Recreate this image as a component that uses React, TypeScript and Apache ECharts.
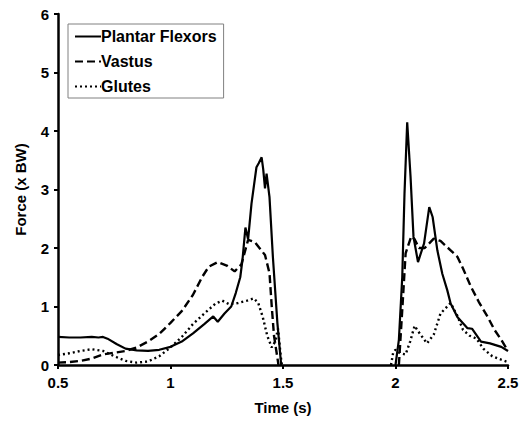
import React, { useEffect, useRef } from "react";
import * as echarts from "echarts";

const seriesNames = ["Plantar Flexors", "Vastus", "Glutes"];

// null marks the gap between the two bouts (curves lie on the axis there)
const pfTime = [0.5, 0.55, 0.6, 0.65, 0.68, 0.7, 0.72, 0.76, 0.8, 0.85, 0.9, 0.95, 1.0, 1.05, 1.1, 1.15, 1.19, 1.21, 1.24, 1.27, 1.29, 1.31, 1.32, 1.333, 1.345, 1.36, 1.382, 1.392, 1.405, 1.412, 1.42, 1.427, 1.44, 1.455, 1.475, 1.492, 1.75, 2.0, 2.015, 2.03, 2.04, 2.052, 2.067, 2.08, 2.1, 2.127, 2.15, 2.165, 2.186, 2.208, 2.23, 2.245, 2.275, 2.32, 2.34, 2.38, 2.42, 2.47, 2.5];
const pfForce = [0.48, 0.47, 0.47, 0.48, 0.47, 0.48, 0.45, 0.36, 0.28, 0.25, 0.24, 0.26, 0.31, 0.4, 0.54, 0.7, 0.83, 0.74, 0.88, 1.0, 1.23, 1.5, 1.8, 2.35, 2.15, 2.76, 3.38, 3.45, 3.55, 3.35, 3.02, 3.27, 2.87, 1.85, 0.72, 0.0, null, 0.0, 0.43, 1.5, 2.93, 4.15, 3.21, 2.19, 1.76, 2.08, 2.7, 2.53, 1.96, 1.56, 1.28, 1.05, 0.82, 0.63, 0.62, 0.4, 0.37, 0.31, 0.24];

const vTime = [0.5, 0.55, 0.6, 0.65, 0.7, 0.75, 0.8, 0.85, 0.9, 0.95, 1.0, 1.05, 1.1, 1.14, 1.17, 1.21, 1.25, 1.285, 1.315, 1.345, 1.375, 1.42, 1.44, 1.45, 1.46, 1.48, 1.75, 2.015, 2.03, 2.045, 2.07, 2.085, 2.104, 2.13, 2.17, 2.2, 2.245, 2.275, 2.3, 2.335, 2.37, 2.41, 2.44, 2.47, 2.5];
const vForce = [0.04, 0.05, 0.07, 0.11, 0.18, 0.21, 0.24, 0.3, 0.4, 0.53, 0.72, 0.92, 1.2, 1.5, 1.68, 1.76, 1.7, 1.6, 1.72, 2.14, 2.1, 1.88, 1.57, 1.0, 0.5, 0.0, null, 0.0, 0.94, 1.91, 2.2, 2.15, 2.0, 2.0, 2.16, 2.12, 1.96, 1.85, 1.65, 1.34, 1.08, 0.82, 0.6, 0.43, 0.24];

const gTime = [0.5, 0.55, 0.6, 0.65, 0.7, 0.75, 0.8, 0.85, 0.9, 0.95, 1.0, 1.05, 1.1, 1.15, 1.2, 1.23, 1.26, 1.3, 1.34, 1.37, 1.39, 1.41, 1.43, 1.45, 1.465, 1.478, 1.49, 1.495, 1.75, 1.98, 1.99, 2.0, 2.02, 2.045, 2.065, 2.085, 2.1, 2.14, 2.17, 2.2, 2.245, 2.275, 2.3, 2.33, 2.36, 2.39, 2.43, 2.47, 2.5];
const gForce = [0.17, 0.2, 0.24, 0.27, 0.24, 0.15, 0.07, 0.04, 0.06, 0.15, 0.3, 0.48, 0.7, 0.88, 1.05, 1.1, 1.04, 1.06, 1.1, 1.14, 1.06, 0.82, 0.5, 0.3, 0.4, 0.62, 0.15, 0.0, null, 0.0, 0.22, 0.26, 0.2, 0.18, 0.4, 0.67, 0.58, 0.37, 0.52, 0.88, 1.06, 0.84, 0.6, 0.5, 0.45, 0.28, 0.15, 0.09, 0.05];

const xTicks = { min: 0.5, max: 2.5, interval: 0.5 };
const yTicks = { min: 0, max: 6, interval: 1 };

const pair = (t: number[], f: (number | null)[]) => t.map((v, i) => [v, f[i] === null ? "-" : f[i]]);

const FONT = "Arial, 'Liberation Sans', sans-serif";

export default function App() {
  const ref = useRef<HTMLDivElement>(null);
  useEffect(() => {
    if (!ref.current) return;
    const chart = echarts.init(ref.current, undefined, { renderer: "svg" });
    const axisText = { color: "#000", fontWeight: "bold" as const, fontSize: 15, fontFamily: FONT };
    chart.setOption({
      animation: false,
      backgroundColor: "#fff",
      grid: { left: 58, right: 15, top: 14, bottom: 59, containLabel: false },
      legend: {
        orient: "vertical",
        left: 68,
        top: 24,
        data: seriesNames,
        itemWidth: 26,
        itemHeight: 14,
        itemGap: 8,
        padding: [4, 7, 3, 6],
        borderColor: "#808080",
        borderWidth: 1,
        backgroundColor: "#fff",
        itemStyle: { opacity: 0 },
        textStyle: { ...axisText, fontSize: 16, lineHeight: 17, padding: [0, 0, 0, -5] },
      },
      xAxis: {
        type: "value",
        min: xTicks.min,
        max: xTicks.max,
        interval: xTicks.interval,
        name: "Time (s)",
        nameLocation: "middle",
        nameGap: 35,
        nameTextStyle: axisText,
        axisLine: { lineStyle: { color: "#000", width: 2.5 } },
        axisTick: { length: 4, lineStyle: { color: "#000", width: 2 } },
        axisLabel: { ...axisText, margin: 10 },
        splitLine: { show: false },
        z: 5,
      },
      yAxis: {
        type: "value",
        min: yTicks.min,
        max: yTicks.max,
        interval: yTicks.interval,
        name: "Force (x BW)",
        nameLocation: "middle",
        nameGap: 30,
        nameTextStyle: { ...axisText, color: "#000" },
        axisLine: { show: true, lineStyle: { color: "#000", width: 2.5 } },
        axisTick: { show: true, length: 4, lineStyle: { color: "#000", width: 2 } },
        axisLabel: { ...axisText, margin: 9 },
        splitLine: { show: false },
        z: 5,
      },
      series: [
        {
          name: seriesNames[0],
          type: "line",
          data: pair(pfTime, pfForce),
          symbol: "none",
          connectNulls: false,
          lineStyle: { color: "#000", width: 2.2, type: "solid" },
          itemStyle: { color: "#000" },
          z: 3,
        },
        {
          name: seriesNames[1],
          type: "line",
          data: pair(vTime, vForce),
          symbol: "none",
          connectNulls: false,
          lineStyle: { color: "#000", width: 2.4, type: [8, 4] },
          itemStyle: { color: "#000" },
          z: 2,
        },
        {
          name: seriesNames[2],
          type: "line",
          data: pair(gTime, gForce),
          symbol: "none",
          connectNulls: false,
          lineStyle: { color: "#000", width: 2.4, type: [2, 3] },
          itemStyle: { color: "#000" },
          z: 2,
        },
      ],
    });
    return () => chart.dispose();
  }, []);
  return <div ref={ref} style={{ width: 523, height: 424, position: "absolute", left: 0, top: 0 }} />;
}
